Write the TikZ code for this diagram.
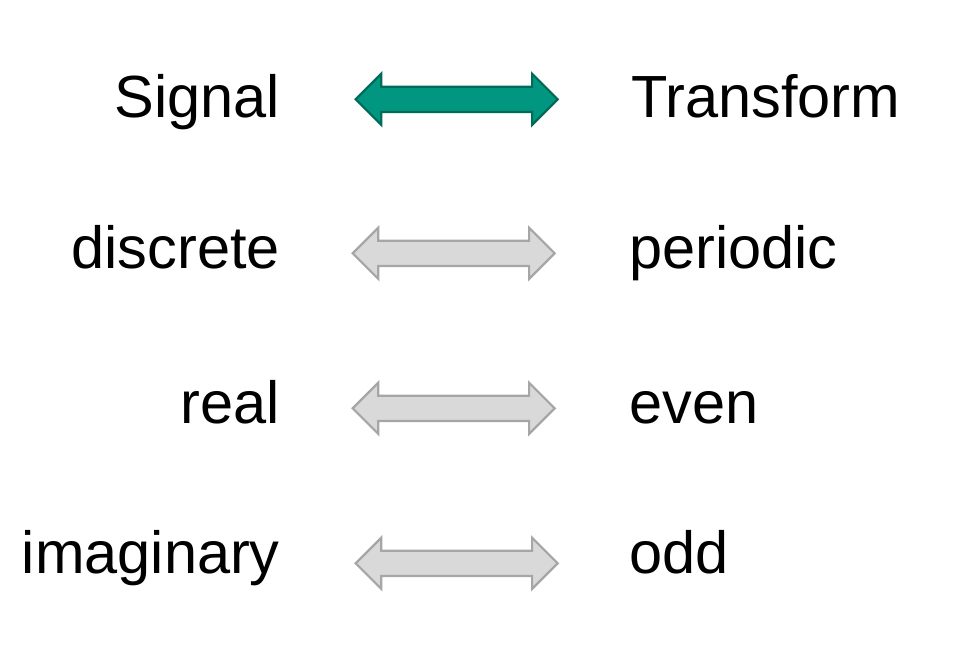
\documentclass[tikz,border=0pt]{standalone}
\usepackage{fontspec}
\setmainfont{Liberation Sans}
\usetikzlibrary{shapes.arrows, positioning}

\definecolor{tealfill}{HTML}{00967F}
\definecolor{tealline}{HTML}{006B5A}
\definecolor{greyfill}{HTML}{D9D9D9}
\definecolor{greyline}{HTML}{A6A6A6}

\begin{document}
\begin{tikzpicture}[
  x=1pt, y=-1pt,
  word/.style={inner sep=0pt, font=\fontsize{59.5}{70}\selectfont},
  leftword/.style={word, anchor=base east},
  rightword/.style={word, anchor=base west},
  pairarrow/.style={double arrow, double arrow head extend=13pt, double arrow tip angle=90,
    inner sep=0pt, inner ysep=11.5pt, minimum height=202pt, minimum width=49pt, line width=2.2pt},
  mainarrow/.style={pairarrow, draw=tealline, fill=tealfill},
  sidearrow/.style={pairarrow, draw=greyline, fill=greyfill}
]
  \useasboundingbox (0,0) rectangle (962,657);

  % Zeile 1: Signal <-> Transform
  \node (sig) [leftword] at (280,117) {Signal};
  \node (a1) [mainarrow] at (456.7,99.3) {};
  \node (trans) [rightword] at (631,117) {Transform};

  % Eigenschaften
  \node (disc) [leftword] at (280,268.3) {discrete};
  \node (a2) [sidearrow] at (453.7,253.3) {};
  \node (peri) [rightword] at (629,268.3) {periodic};

  \node (real) [leftword] at (280,423.3) {real};
  \node (a3) [sidearrow] at (453.7,408.3) {};
  \node (even) [rightword] at (629,423.3) {even};

  \node (imag) [leftword] at (280,573.3) {imaginary};
  \node (a4) [sidearrow] at (456.7,563.3) {};
  \node (odd) [rightword] at (629,573.3) {odd};

\end{tikzpicture}
\end{document}
